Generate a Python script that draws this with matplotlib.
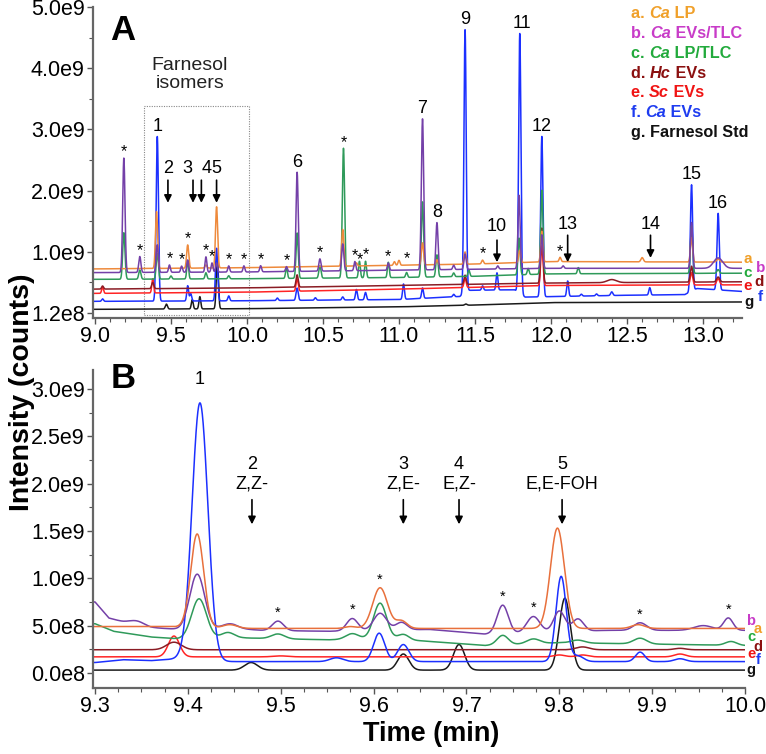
import numpy as np
import matplotlib.pyplot as plt
from matplotlib.ticker import MultipleLocator, FixedLocator

plt.rcParams['font.family'] = ['Liberation Sans', 'DejaVu Sans']

# ---- panel A: baselines (time, intensity) and peaks (time, height, sigma)
base_A_a = [(9.0, 0.72), (10.0, 0.74), (11.0, 0.78), (11.5, 0.80), (12.0, 0.84), (13.27, 0.83)]
base_A_b = [(9.0, 0.66), (10.0, 0.67), (11.0, 0.70), (12.0, 0.73), (13.27, 0.73)]
base_A_c = [(9.0, 0.55), (10.0, 0.56), (11.0, 0.58), (11.5, 0.60), (12.0, 0.64), (13.27, 0.65)]
base_A_d = [(9.0, 0.39), (10.0, 0.41), (11.0, 0.45), (12.0, 0.49), (13.27, 0.51)]
base_A_e = [(9.0, 0.32), (10.0, 0.34), (11.0, 0.39), (12.0, 0.45), (13.27, 0.46)]
base_A_f = [(9.0, 0.19), (10.0, 0.20), (11.0, 0.22), (11.4, 0.27), (11.46, 0.37), (11.76, 0.38),
            (11.83, 0.26), (12.5, 0.29), (12.88, 0.30), (12.96, 0.40), (13.27, 0.35)]
base_A_g = [(9.0, 0.06), (10.0, 0.07), (11.0, 0.10), (11.5, 0.13), (12.0, 0.17), (13.27, 0.18)]

peaks_A_a = [(9.405, 0.93, .007), (9.61, 0.38, .007), (9.73, 0.05, .006), (9.80, 1.0, .007),
             (10.63, 0.6, .007), (10.72, 0.05, .006), (10.97, 0.06, .006), (11.0, 0.08, .006),
             (11.155, 0.36, .007), (11.25, 0.08, .006), (11.435, 0.2, .007), (11.55, 0.06, .006),
             (11.795, 0.2, .007), (11.94, 0.5, .007), (12.06, 0.07, .006), (12.6, 0.07, .008),
             (12.925, 0.4, .007), (13.1, 0.05, .01)]
peaks_A_b = [(9.19, 1.87, .0075), (9.295, 0.26, .007), (9.41, 0.45, .007), (9.49, 0.12, .006),
             (9.57, 0.1, .006), (9.61, 0.2, .006), (9.73, 0.25, .006), (9.77, 0.15, .006),
             (9.80, 0.15, .006), (9.88, 0.1, .006), (9.98, 0.1, .006), (10.09, 0.1, .006),
             (10.26, 0.08, .006), (10.33, 1.62, .007), (10.48, 0.2, .007), (10.63, 0.44, .007),
             (10.71, 0.15, .006), (10.93, 0.12, .006), (11.155, 2.47, .0075), (11.25, 0.77, .007),
             (11.36, 0.07, .006), (11.435, 0.25, .007), (11.65, 0.05, .006), (11.79, 1.2, .007),
             (11.94, 0.55, .007), (12.08, 0.04, .006), (12.925, 0.75, .007), (13.1, 0.17, .03)]
peaks_A_c = [(9.19, 0.76, .0075), (9.295, 0.15, .007), (9.41, 0.42, .007), (9.5, 0.05, .006),
             (9.61, 0.3, .006), (9.73, 0.1, .006), (9.88, 0.05, .006), (10.26, 0.18, .006),
             (10.33, 0.74, .007), (10.48, 0.2, .007), (10.635, 2.12, .0075), (10.74, 0.27, .006),
             (10.78, 0.27, .006), (10.93, 0.25, .006), (11.05, 0.08, .006), (11.155, 1.23, .0075),
             (11.25, 0.36, .007), (11.36, 0.06, .006), (11.46, 0.1, .006), (11.79, 0.6, .007),
             (11.85, 0.1, .006), (11.94, 1.37, .0075), (12.18, 0.1, .006), (12.925, 0.78, .007),
             (13.1, 0.06, .008)]
peaks_A_d = [(9.05, 0.05, .006), (9.38, 0.1, .007), (10.33, 0.2, .007), (11.435, 0.15, .007),
             (11.94, 0.9, .0075), (12.4, 0.05, .03), (12.925, 0.26, .008), (13.1, 0.08, .01)]
peaks_A_e = [(9.05, 0.1, .006), (9.38, 0.23, .006), (10.33, 0.2, .007), (11.435, 0.15, .007),
             (11.94, 0.65, .0075), (12.925, 0.2, .008), (13.1, 0.1, .01)]
peaks_A_f = [(9.05, 0.04, .006), (9.41, 2.69, .0075), (9.61, 0.25, .006), (9.63, 0.12, .006),
             (9.80, 0.86, .007), (9.88, 0.08, .006), (10.2, 0.04, .006), (10.33, 0.2, .007),
             (10.45, 0.04, .006), (10.63, 0.05, .006), (10.72, 0.17, .006), (10.78, 0.12, .006),
             (11.03, 0.25, .006), (11.155, 0.17, .006), (11.36, 0.04, .006), (11.435, 4.3, .0075),
             (11.55, 0.07, .006), (11.645, 0.28, .006), (11.795, 4.25, .0075), (11.94, 2.62, .0075),
             (12.11, 0.25, .006), (12.2, 0.03, .006), (12.3, 0.03, .006), (12.4, 0.06, .007),
             (12.65, 0.12, .006), (12.925, 1.74, .0075), (13.1, 1.25, .0075)]
peaks_A_g = [(9.47, 0.08, .007), (9.64, 0.15, .006), (9.69, 0.2, .006), (9.805, 0.8, .007),
             (11.44, 0.02, .008)]

# ---- panel B
base_B_a = [(9.3, 0.49), (9.38, 0.49), (9.43, 0.47), (10.0, 0.47)]
base_B_b = [(9.3, 0.75), (9.315, 0.58), (9.33, 0.54), (9.36, 0.48), (9.39, 0.46), (9.45, 0.47),
            (9.48, 0.45), (9.55, 0.44), (9.66, 0.46), (9.72, 0.41), (9.85, 0.45), (10.0, 0.45)]
base_B_c = [(9.3, 0.52), (9.32, 0.44), (9.36, 0.38), (9.39, 0.36), (9.46, 0.37), (9.55, 0.35),
            (9.6, 0.36), (9.65, 0.34), (9.72, 0.29), (9.8, 0.32), (10.0, 0.29)]
base_B_d = [(9.3, 0.245), (10.0, 0.245)]
base_B_e = [(9.3, 0.17), (10.0, 0.17)]
base_B_f = [(9.3, 0.11), (9.33, 0.14), (9.36, 0.13), (9.39, 0.15), (9.43, 0.12), (10.0, 0.12)]
base_B_g = [(9.3, 0.03), (10.0, 0.03)]

peaks_B_a = [(9.41, 0.99, .007), (9.445, 0.04, .008), (9.575, 0.02, .006), (9.607, 0.43, .008),
             (9.63, 0.08, .006), (9.798, 1.06, .0075), (9.885, 0.04, .007)]
peaks_B_b = [(9.345, 0.04, .008), (9.41, 0.58, .008), (9.445, 0.05, .008), (9.497, 0.1, .006),
             (9.577, 0.13, .006), (9.607, 0.18, .007), (9.63, 0.08, .006), (9.739, 0.3, .006),
             (9.772, 0.17, .007), (9.80, 0.22, .006), (9.82, 0.13, .006), (9.887, 0.08, .007),
             (9.955, 0.05, .01), (9.982, 0.13, .005)]
peaks_B_c = [(9.412, 0.42, .008), (9.443, 0.06, .007), (9.497, 0.05, .007), (9.577, 0.06, .007),
             (9.607, 0.38, .007), (9.632, 0.06, .006), (9.739, 0.1, .006), (9.772, 0.05, .007),
             (9.82, 0.03, .007), (9.887, 0.06, .007), (9.985, 0.04, .006)]
peaks_B_d = [(9.385, 0.08, .008), (9.825, 0.03, .007), (9.93, 0.015, .006)]
peaks_B_e = [(9.385, 0.22, .006), (9.5, 0.01, .008), (9.8, 0.02, .006), (9.825, 0.02, .006),
             (9.93, 0.03, .006)]
peaks_B_f = [(9.413, 2.72, .0085), (9.56, 0.04, .007), (9.606, 0.3, .006), (9.632, 0.18, .006),
             (9.802, 0.9, .0055), (9.82, 0.06, .006), (9.887, 0.1, .005), (9.93, 0.03, .006)]
peaks_B_g = [(9.468, 0.08, .007), (9.632, 0.17, .006), (9.692, 0.27, .006), (9.806, 0.76, .006)]

names = ['a', 'b', 'c', 'd', 'e', 'f', 'g']
legend_labels = [('a. ', 'Ca', ' LP'), ('b. ', 'Ca', ' EVs/TLC'), ('c. ', 'Ca', ' LP/TLC'),
                 ('d. ', 'Hc', ' EVs'), ('e. ', 'Sc', ' EVs'), ('f. ', 'Ca', ' EVs'),
                 ('g. Farnesol Std', '', '')]

stars_A = [9.19, 9.295, 9.49, 9.57, 9.61, 9.73, 9.77, 9.88, 9.98, 10.09, 10.26, 10.48, 10.635,
           10.71, 10.745, 10.78, 10.93, 11.05, 11.55, 12.06]
numbers_A = [('1', 9.41), ('6', 10.33), ('7', 11.155), ('8', 11.25), ('9', 11.435),
             ('11', 11.81), ('12', 11.94), ('15', 12.925), ('16', 13.1)]
stars_B = [9.497, 9.577, 9.607, 9.739, 9.772, 9.887, 9.982]

line_col = {'a': '#ee8a3c', 'b': '#7440a8', 'c': '#2f9a5a', 'd': '#8a1c24',
            'e': '#ff2424', 'f': '#1c30ff', 'g': '#1a1a1a'}
text_col = {'a': '#f0a02a', 'b': '#c83cc8', 'c': '#22aa3c', 'd': '#8b1010',
            'e': '#f01414', 'f': '#1e3cf0', 'g': '#111111'}
line_col_B = dict(line_col, a='#e8703c')


def trace(t, base, peaks):
    bt, bv = zip(*base)
    y = np.interp(t, bt, bv)
    for c, h, s in peaks:
        y = y + h * np.exp(-0.5 * ((t - c) / s) ** 2)
    return y


def top_near(t, ally, x, w=0.015):
    m = (t > x - w) & (t < x + w)
    return ally[m].max()


def style_axis(ax):
    for s in ['top', 'right']:
        ax.spines[s].set_visible(False)
    for s in ['left', 'bottom']:
        ax.spines[s].set_color('#666666')
        ax.spines[s].set_linewidth(1.6)
    ax.tick_params(which='major', length=4, width=1, color='#555555', labelsize=15.5, pad=2)
    ax.tick_params(which='minor', length=3, width=0.8, color='#555555')


fig = plt.figure(figsize=(7.66, 7.54), dpi=100)
W, H = 766, 754
axA = fig.add_axes([93 / W, 1 - 318 / H, (742 - 93) / W, (318 - 7) / H])
axB = fig.add_axes([93 / W, 1 - 688 / H, (745 - 93) / W, (688 - 370) / H])

# ---------------- panel A
tA = np.linspace(8.98, 13.26, 6000)
A = {}
for n in names:
    A[n] = trace(tA, globals()['base_A_' + n], globals()['peaks_A_' + n])
for n in ['g', 'f', 'e', 'd', 'c', 'a', 'b']:
    axA.plot(tA, A[n] * 1e9, color=line_col[n], lw=1.1)

axA.set_xlim(8.987, 13.257)
axA.set_ylim(-0.082e9, 5.0e9)
style_axis(axA)
axA.xaxis.set_major_locator(FixedLocator([9.0, 9.5, 10.0, 10.5, 11.0, 11.5, 12.0, 12.5, 13.0]))
axA.set_xticklabels(['9.0', '9.5', '10.0', '10.5', '11.0', '11.5', '12.0', '12.5', '13.0'])
axA.xaxis.set_minor_locator(MultipleLocator(0.1))
axA.yaxis.set_major_locator(FixedLocator([0, 1e9, 2e9, 3e9, 4e9, 5e9]))
axA.set_yticklabels(['1.2e8', '1.0e9', '2.0e9', '3.0e9', '4.0e9', '5.0e9'])
axA.yaxis.set_minor_locator(MultipleLocator(0.5e9))

allA = np.max(np.vstack([A[n] for n in names]), axis=0)
for st in stars_A:
    v = np.interp(st, tA, allA)
    axA.annotate('*', (st, v * 1e9), xytext=(0, -1), textcoords='offset points',
                 ha='center', va='bottom', fontsize=11.5)
for lab, st in numbers_A:
    v = top_near(tA, allA, st)
    axA.annotate(lab, (st, v * 1e9), xytext=(0, 1), textcoords='offset points',
                 ha='center', va='bottom', fontsize=13)

arrows_A = [('2', 9.48, 2.36, 2.17, 1.80), ('3', 9.645, 2.36, 2.17, 1.80),
            ('4', 9.70, 2.36, 2.17, 1.80), ('5', 9.80, 2.36, 2.17, 1.80),
            ('10', 11.645, 1.42, 1.19, 0.83), ('13', 12.11, 1.44, 1.27, 0.83),
            ('14', 12.655, 1.44, 1.27, 0.90)]
for lab, x, ty, y0, y1 in arrows_A:
    if lab in ('3', '4'):
        axA.text(x + (-0.003 if lab == '3' else 0.003), ty * 1e9, lab,
                 ha='right' if lab == '3' else 'left', va='center', fontsize=13)
    else:
        axA.text(x, ty * 1e9, lab, ha='center', va='center', fontsize=13)
    axA.annotate('', xy=(x, y1 * 1e9), xytext=(x, y0 * 1e9),
                 arrowprops=dict(arrowstyle='-|>', color='k', lw=1.2, mutation_scale=11,
                                 shrinkA=0, shrinkB=0))

axA.add_patch(plt.Rectangle((9.322, -0.03e9), 10.013 - 9.322, 3.41e9, fill=False,
                            ls=(0, (1, 1.2)), lw=0.8, ec='#888888'))
axA.text(9.625, 3.9e9, 'Farnesol\nisomers', ha='center', va='center', fontsize=14,
         linespacing=1.05, color='#222222')
fig.text(123 / W, 1 - 30 / H, 'A', fontsize=25, fontweight='bold', ha='center', va='center')

# legend
r = fig.canvas.get_renderer()
for i, (pre, it, post) in enumerate(legend_labels):
    n = names[i]
    y = 1 - (14 + i * 19.7) / H
    x = 631 / W
    txt = fig.text(x, y, pre, color=text_col[n], fontsize=11.7, fontweight='bold', va='center')
    if it:
        bb = txt.get_window_extent(r)
        t2 = fig.text(bb.x1 / W, y, it, color=text_col[n], fontsize=11.7, fontweight='bold',
                      style='italic', va='center')
        bb2 = t2.get_window_extent(r)
        fig.text(bb2.x1 / W, y, post, color=text_col[n], fontsize=11.7, fontweight='bold',
                 va='center')

endA = {'a': (748, 259), 'b': (761, 268), 'c': (748, 273), 'd': (759, 282),
        'e': (748, 286), 'f': (760, 297), 'g': (749, 302)}
for n in names:
    x, y = endA[n]
    fig.text(x / W, 1 - y / H, n, color=text_col[n], fontsize=11, fontweight='bold',
             ha='center', va='center')

# ---------------- panel B
tB = np.linspace(9.29, 10.0, 4000)
B = {}
for n in names:
    B[n] = trace(tB, globals()['base_B_' + n], globals()['peaks_B_' + n])
for n in ['g', 'e', 'd', 'c', 'f', 'b', 'a']:
    axB.plot(tB, B[n] * 1e9, color=line_col_B[n], lw=1.1)

axB.set_xlim(9.2978, 10.0)
axB.set_ylim(-0.159e9, 3.2e9)
style_axis(axB)
axB.xaxis.set_major_locator(FixedLocator([9.3, 9.4, 9.5, 9.6, 9.7, 9.8, 9.9, 10.0]))
axB.set_xticklabels(['9.3', '9.4', '9.5', '9.6', '9.7', '9.8', '9.9', '10.0'])
axB.xaxis.set_minor_locator(MultipleLocator(0.025))
axB.yaxis.set_major_locator(FixedLocator([0, 0.5e9, 1e9, 1.5e9, 2e9, 2.5e9, 3e9]))
axB.set_yticklabels(['0.0e8', '5.0e8', '1.0e9', '1.5e9', '2.0e9', '2.5e9', '3.0e9'])
axB.yaxis.set_minor_locator(MultipleLocator(0.25e9))

allB = np.max(np.vstack([B[n] for n in names]), axis=0)
for st in stars_B:
    v = np.interp(st, tB, allB)
    axB.annotate('*', (st, v * 1e9), xytext=(0, 1), textcoords='offset points',
                 ha='center', va='bottom', fontsize=10.5)
axB.annotate('1', (9.413, top_near(tB, allB, 9.413) * 1e9), xytext=(0, 11),
             textcoords='offset points', ha='center', va='bottom', fontsize=13)

arrows_B = [('2\nZ,Z-', 9.469), ('3\nZ,E-', 9.632), ('4\nE,Z-', 9.692), ('5\nE,E-FOH', 9.803)]
for lab, x in arrows_B:
    axB.text(x, 2.1e9, lab, ha='center', va='center', fontsize=13, linespacing=1.25)
    axB.annotate('', xy=(x, 1.57e9), xytext=(x, 1.83e9),
                 arrowprops=dict(arrowstyle='-|>', color='k', lw=1.2, mutation_scale=11,
                                 shrinkA=0, shrinkB=0))
fig.text(123 / W, 1 - 378 / H, 'B', fontsize=25, fontweight='bold', ha='center', va='center')

endB = {'b': (751, 621), 'a': (758, 629), 'c': (751, 637), 'd': (758, 647),
        'e': (751, 654), 'f': (758, 660), 'g': (751, 670)}
for n in names:
    x, y = endB[n]
    fig.text(x / W, 1 - y / H, n, color=text_col[n], fontsize=10.5, fontweight='bold',
             ha='center', va='center')

fig.text(22 / W, 1 - 392 / H, 'Intensity (counts)', rotation=90, fontsize=20.5,
         fontweight='bold', ha='center', va='center')
fig.text(431 / W, 1 - 734 / H, 'Time (min)', fontsize=19.5, fontweight='bold',
         ha='center', va='center')

fig.savefig('out.png', dpi=100)
